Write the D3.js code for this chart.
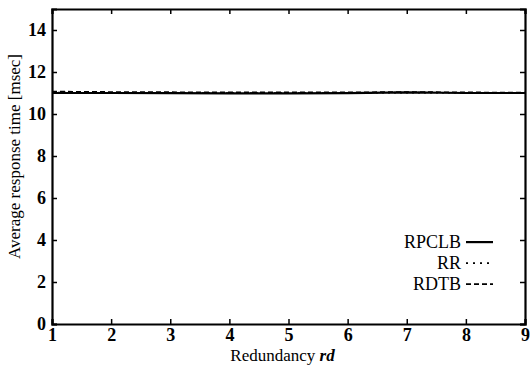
<!DOCTYPE html>
<html>
<head>
<meta charset="utf-8">
<script src="https://cdn.jsdelivr.net/npm/d3@7"></script>
<style>
  body { margin: 0; background: #fff; }
  svg text { font-family: "Liberation Serif", "Times New Roman", Times, "DejaVu Serif", serif !important; fill: #000; }
</style>
</head>
<body>
<svg id="chart" width="532" height="367"></svg>
<script>
const redundancy = [1, 2, 3, 4, 5, 6, 7, 8, 9];
const rpclb = [11.0, 11.0, 10.99, 10.98, 10.98, 10.99, 11.03, 11.0, 11.0];
const rr = [11.02, 11.01, 11.0, 11.0, 11.0, 11.0, 11.02, 11.01, 11.0];
const rdtb = [11.07, 11.05, 11.04, 11.03, 11.03, 11.03, 11.05, 11.03, 11.02];
const xTicks = [1, 2, 3, 4, 5, 6, 7, 8, 9];
const yTicks = [0, 2, 4, 6, 8, 10, 12, 14];

const seriesList = [
  { name: "RPCLB", values: rpclb, dash: null },
  { name: "RR", values: rr, dash: "2,4" },
  { name: "RDTB", values: rdtb, dash: "5,3" }
];

const margin = { top: 9, right: 7, bottom: 43, left: 52 };
const width = 532 - margin.left - margin.right;
const height = 367 - margin.top - margin.bottom;

const svg = d3.select("#chart");
const g = svg.append("g").attr("transform", `translate(${margin.left},${margin.top})`);

const x = d3.scaleLinear().domain([1, 9]).range([0, width]);
const y = d3.scaleLinear().domain([0, 15]).range([height, 0]);

// axes, ticks pointing inward
const xAxis = g.append("g").attr("transform", `translate(0,${height})`)
  .call(d3.axisBottom(x).tickValues(xTicks).tickSize(-5).tickPadding(3).tickFormat(d3.format("d")));
const yAxis = g.append("g")
  .call(d3.axisLeft(y).tickValues(yTicks).tickSize(-5).tickPadding(6).tickFormat(d3.format("d")));
const xTop = g.append("g")
  .call(d3.axisTop(x).tickValues(xTicks).tickSize(-5).tickFormat(""));
const yRight = g.append("g").attr("transform", `translate(${width},0)`)
  .call(d3.axisRight(y).tickValues(yTicks).tickSize(-5).tickFormat(""));

[xAxis, yAxis, xTop, yRight].forEach(a => {
  a.attr("font-family", null);
  a.select(".domain").attr("stroke", "#000").attr("stroke-width", 2.2);
  a.selectAll(".tick line").attr("stroke", "#000").attr("stroke-width", 1.5);
  a.selectAll(".tick text").attr("font-size", 18).attr("font-weight", "bold");
});
xAxis.selectAll(".tick text").attr("dy", "0.75em");

// lines
const line = d3.line().x((d, i) => x(redundancy[i])).y(d => y(d));
seriesList.forEach(s => {
  g.append("path")
    .datum(s.values)
    .attr("fill", "none")
    .attr("stroke", "#000")
    .attr("stroke-width", s.dash ? 1.6 : 2.2)
    .attr("stroke-dasharray", s.dash)
    .attr("d", line);
});

// axis titles
const xt = g.append("text")
  .attr("x", width / 2 - 6).attr("y", height + 37)
  .attr("text-anchor", "middle").attr("font-size", 17);
xt.append("tspan").text("Redundancy ");
xt.append("tspan").attr("font-style", "italic").attr("font-weight", "bold").text("rd");

g.append("text")
  .attr("transform", `translate(-32,${height / 2 - 10}) rotate(-90)`)
  .attr("text-anchor", "middle").attr("font-size", 17)
  .text("Average response time [msec]");

// legend
const legend = g.append("g").attr("transform", `translate(${width - 64},${y(3.9)})`);
seriesList.forEach((s, i) => {
  const row = legend.append("g").attr("transform", `translate(0,${i * 21})`);
  row.append("text").attr("x", 0).attr("y", 0).attr("dy", "0.35em")
    .attr("text-anchor", "end").attr("font-size", 18).text(s.name);
  row.append("line").attr("x1", 5).attr("x2", 32).attr("y1", 0).attr("y2", 0)
    .attr("stroke", "#000").attr("stroke-width", s.dash ? 1.8 : 2.2)
    .attr("stroke-dasharray", s.dash ? (s.name === "RR" ? "2,5" : "5,3") : null);
});
</script>
</body>
</html>
